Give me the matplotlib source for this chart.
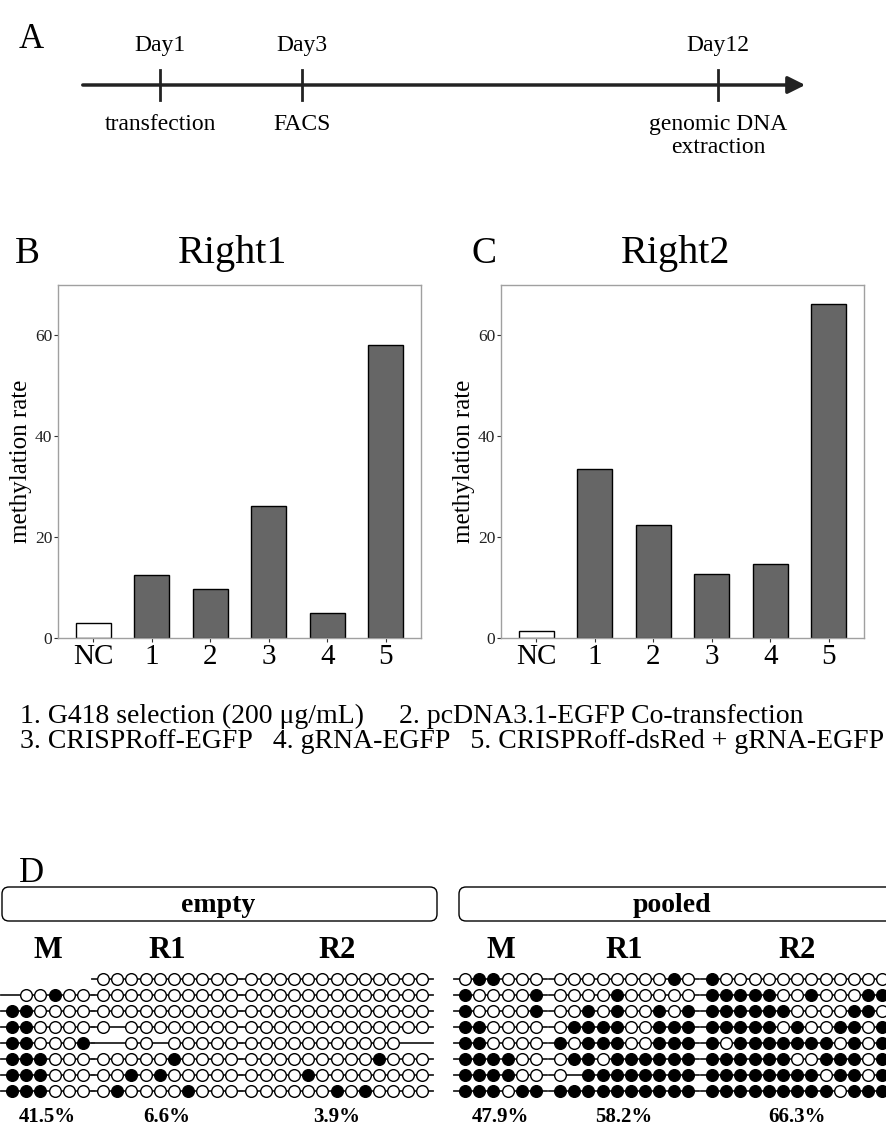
import matplotlib
matplotlib.use('Agg')
import matplotlib.pyplot as plt
from matplotlib.patches import FancyBboxPatch

plt.rcParams['font.family'] = ['Liberation Serif', 'DejaVu Serif']

W, H = 887, 1134

# Panel A: timeline
days = ['Day1', 'Day3', 'Day12']
day_x = [160, 302, 718]
events = ['transfection', 'FACS', 'genomic DNA\nextraction']

# Panels B and C: methylation rate
groups = ['NC', '1', '2', '3', '4', '5']
right1 = [3.0, 12.5, 9.8, 26.1, 4.9, 58.2]
right2 = [1.4, 33.6, 22.4, 12.7, 14.6, 66.3]

legend_lines = ['1. G418 selection (200 \u03bcg/mL)     2. pcDNA3.1-EGFP Co-transfection',
                '3. CRISPRoff-EGFP   4. gRNA-EGFP   5. CRISPRoff-dsRed + gRNA-EGFP']

# Panel D: bisulfite clones, 1 = methylated, 0 = unmethylated, - = missing
empty_M = [None, '-00100', '110000', '110000', '110001', '111000', '111000', '111000']
empty_R1 = ['0000000000', '0000000000', '0000000000', '0-00000000',
            '--00-00000', '0000010000', '0010100000', '0100001000']
empty_R2 = ['0000000000000', '0000000000000', '0000000000000', '0000000000000',
            '00000000000--', '0000000001000', '0000100000000', '0000001010000']
pooled_M = ['011000', '100001', '100001', '110000', '110000', '111100', '111100', '111011']
pooled_R1 = ['0000000010', '0000100000', '0010100101', '0111100111',
             '1011100111', '0110111111', '0-11111111', '1111111111']
pooled_R2 = ['1000000000000', '1111100100011', '1111110000110', '1111101001101',
             '1011111110101', '1111110011101', '1111111101101', '1111111110111']
empty_pct = ['41.5%', '6.6%', '3.9%']
pooled_pct = ['47.9%', '58.2%', '66.3%']

fig = plt.figure(figsize=(W / 100, H / 100), dpi=100)
ov = fig.add_axes([0, 0, 1, 1])
ov.set_xlim(0, W)
ov.set_ylim(H, 0)
ov.axis('off')

# ---- A ----
ov.text(31, 40, 'A', fontsize=25, ha='center', va='center')
ov.annotate('', xy=(808, 85), xytext=(80, 85),
            arrowprops=dict(arrowstyle='-|>', lw=2.5, color='#222222', mutation_scale=26))
for x, d, e in zip(day_x, days, events):
    ov.plot([x, x], [70, 100], color='#222222', lw=2)
    ov.text(x, 45, d, fontsize=17, ha='center', va='center')
    ov.text(x, 114, e, fontsize=17, ha='center', va='top', linespacing=1.1)

# ---- B, C ----
def bar_panel(left, vals, title, letter, letter_x):
    ax = fig.add_axes([left / W, (H - 638) / H, 363 / W, 353 / H])
    colors = ['white'] + ['#666666'] * 5
    ax.bar(range(len(groups)), vals, width=0.6, color=colors, edgecolor='black', linewidth=1.0)
    ax.set_xlim(-0.6, 5.6)
    ax.set_ylim(0, 70)
    ax.set_yticks([0, 20, 40, 60])
    ax.set_xticks(range(len(groups)))
    ax.set_xticklabels(groups, fontsize=21)
    ax.tick_params(axis='y', labelsize=12.5, length=3, color='#333333', pad=1, labelcolor='#222222')
    ax.tick_params(axis='x', length=3, color='#333333', pad=1)
    for s in ax.spines.values():
        s.set_color('#a0a0a0')
        s.set_linewidth(1)
    ax.set_ylabel('methylation rate', fontsize=18)
    ax.yaxis.set_label_coords(-0.072, 0.5)
    ov.text(left + 175, 254, title, fontsize=29, ha='center', va='center')
    ov.text(letter_x, 254, letter, fontsize=27, ha='center', va='center')

bar_panel(58, right1, 'Right1', 'B', 27)
bar_panel(501, right2, 'Right2', 'C', 484)

ov.text(20, 716, legend_lines[0], fontsize=20, ha='left', va='center')
ov.text(20, 742, legend_lines[1], fontsize=20, ha='left', va='center')

# ---- D ----
ov.text(32, 874, 'D', fontsize=25, ha='center', va='center')
for bx, bw, label, lx in [(2, 435, 'empty', 218), (459, 460, 'pooled', 672)]:
    ov.add_patch(FancyBboxPatch((bx, 887), bw, 34, boxstyle='round,pad=0,rounding_size=7',
                                fc='white', ec='black', lw=1.0))
    ov.text(lx, 905, label, fontsize=20, fontweight='bold', ha='center', va='center')

sp = 14.2
row_y0 = 979
row_dy = 16.0

def draw_block(rows, x0, header, pct):
    n = len([r for r in rows if r is not None][0])
    xs = [x0 + k * sp for k in range(n)]
    for i, row in enumerate(rows):
        if row is None:
            continue
        y = row_y0 + i * row_dy
        ov.plot([xs[0] - 11, xs[-1] + 11], [y, y], color='#222222', lw=1.3, zorder=2)
        for k, c in enumerate(row):
            if c == '-':
                continue
            ov.plot(xs[k], y, 'o', ms=8.4, mfc='black' if c == '1' else 'white',
                    mec='black', mew=1.0, zorder=3)
    cx = (xs[0] + xs[-1]) / 2
    ov.text(cx, 951, header, fontsize=22, fontweight='bold', ha='center', va='center')
    ov.text(cx, 1117, pct, fontsize=15, fontweight='bold', ha='center', va='center')

draw_block(empty_M, 12, 'M', empty_pct[0])
draw_block(empty_R1, 103, 'R1', empty_pct[1])
draw_block(empty_R2, 251.5, 'R2', empty_pct[2])
draw_block(pooled_M, 465, 'M', pooled_pct[0])
draw_block(pooled_R1, 560, 'R1', pooled_pct[1])
draw_block(pooled_R2, 712, 'R2', pooled_pct[2])

fig.savefig('out.png', dpi=100)
